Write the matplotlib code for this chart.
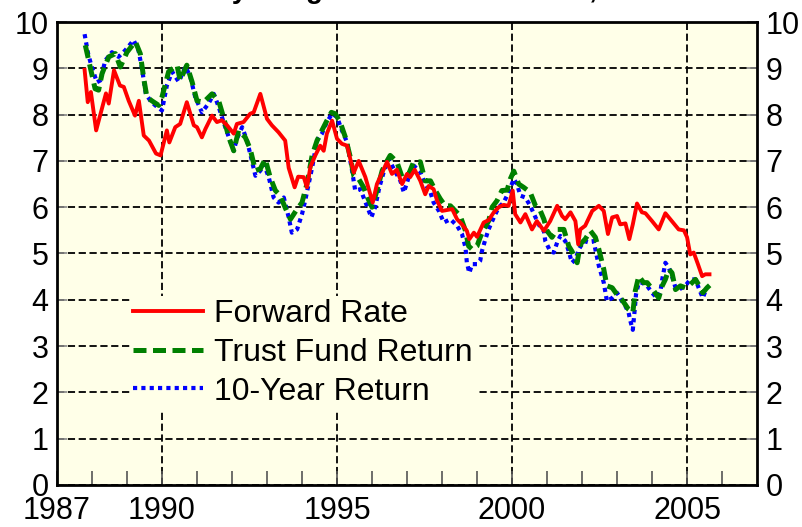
import numpy as np
import matplotlib.pyplot as plt

plt.rcParams['font.family'] = ['Liberation Sans', 'DejaVu Sans']

# Forward Rate (solid red)
fwd_year = [1987.79, 1987.88, 1987.97, 1988.12, 1988.40, 1988.48, 1988.63, 1988.80, 1988.91,
            1989.05, 1989.23, 1989.34, 1989.48, 1989.63, 1989.83, 1989.96, 1990.14, 1990.21,
            1990.38, 1990.52, 1990.71, 1990.91, 1991.00, 1991.14, 1991.24, 1991.43, 1991.57,
            1991.71, 1991.86, 1992.05, 1992.14, 1992.33, 1992.52, 1992.62, 1992.81, 1993.00,
            1993.14, 1993.33, 1993.52, 1993.62, 1993.79, 1993.89, 1994.05, 1994.14, 1994.24,
            1994.38, 1994.52, 1994.62, 1994.71, 1994.86, 1995.00, 1995.14, 1995.29, 1995.38,
            1995.48, 1995.62, 1995.81, 1996.02, 1996.14, 1996.29, 1996.43, 1996.57, 1996.71,
            1996.86, 1997.00, 1997.09, 1997.22, 1997.38, 1997.52, 1997.62, 1997.76, 1997.86,
            1998.00, 1998.14, 1998.29, 1998.43, 1998.57, 1998.71, 1998.78, 1998.91, 1999.00,
            1999.19, 1999.33, 1999.48, 1999.62, 1999.76, 1999.90, 2000.02, 2000.09, 2000.24,
            2000.38, 2000.57, 2000.71, 2000.91, 2001.09, 2001.29, 2001.43, 2001.52, 2001.67,
            2001.81, 2001.89, 2001.95, 2002.09, 2002.29, 2002.48, 2002.62, 2002.74, 2002.86,
            2003.00, 2003.09, 2003.24, 2003.35, 2003.45, 2003.57, 2003.71, 2003.81, 2004.00,
            2004.19, 2004.38, 2004.52, 2004.67, 2004.76, 2004.91, 2005.00, 2005.09, 2005.19,
            2005.31, 2005.43, 2005.52, 2005.64]
fwd_rate = [8.97, 8.27, 8.49, 7.66, 8.46, 8.24, 8.96, 8.63, 8.60,
            8.30, 7.98, 8.30, 7.55, 7.44, 7.16, 7.12, 7.66, 7.40,
            7.73, 7.80, 8.27, 7.77, 7.73, 7.51, 7.69, 7.98, 7.84,
            7.88, 7.77, 7.59, 7.80, 7.84, 8.02, 8.05, 8.45, 7.91,
            7.77, 7.62, 7.44, 6.85, 6.43, 6.66, 6.65, 6.43, 6.87,
            7.12, 7.33, 7.22, 7.59, 7.87, 7.48, 7.37, 7.33, 7.04,
            6.75, 7.00, 6.65, 6.10, 6.50, 6.75, 6.98, 6.72, 6.81,
            6.50, 6.72, 6.65, 6.81, 6.57, 6.28, 6.46, 6.39, 6.14,
            5.92, 5.94, 5.96, 5.74, 5.63, 5.49, 5.31, 5.45, 5.36,
            5.67, 5.72, 5.89, 6.00, 6.05, 6.03, 6.36, 5.85, 5.67,
            5.85, 5.52, 5.70, 5.49, 5.70, 6.03, 5.81, 5.74, 5.89,
            5.70, 5.20, 5.52, 5.60, 5.92, 6.03, 5.92, 5.42, 5.78,
            5.81, 5.63, 5.65, 5.31, 5.63, 6.08, 5.89, 5.87, 5.70,
            5.52, 5.87, 5.74, 5.60, 5.52, 5.50, 5.35, 4.98, 5.02,
            4.77, 4.51, 4.55, 4.55]

# Trust Fund Return (green dashed)
tf_year = [1987.81, 1987.95, 1988.09, 1988.19, 1988.29, 1988.48, 1988.67, 1988.81, 1989.00,
           1989.24, 1989.38, 1989.48, 1989.57, 1989.71, 1989.91, 1990.00, 1990.19, 1990.43,
           1990.52, 1990.71, 1990.86, 1991.00, 1991.19, 1991.43, 1991.62, 1991.76, 1991.91,
           1992.05, 1992.19, 1992.38, 1992.52, 1992.67, 1992.81, 1992.95, 1993.09, 1993.24,
           1993.38, 1993.52, 1993.67, 1993.86, 1994.00, 1994.14, 1994.29, 1994.43, 1994.57,
           1994.71, 1994.84, 1994.95, 1995.09, 1995.24, 1995.38, 1995.48, 1995.62, 1995.76,
           1995.89, 1996.00, 1996.14, 1996.29, 1996.43, 1996.52, 1996.71, 1996.86, 1997.05,
           1997.19, 1997.38, 1997.52, 1997.67, 1997.81, 1997.95, 1998.09, 1998.24, 1998.38,
           1998.52, 1998.67, 1998.76, 1998.86, 1999.00, 1999.09, 1999.19, 1999.33, 1999.43,
           1999.57, 1999.71, 1999.86, 1999.95, 2000.05, 2000.19, 2000.33, 2000.52, 2000.67,
           2000.81, 2000.91, 2001.00, 2001.14, 2001.29, 2001.48, 2001.62, 2001.71, 2001.86,
           2001.95, 2002.09, 2002.24, 2002.38, 2002.48, 2002.62, 2002.71, 2002.86, 2003.00,
           2003.14, 2003.33, 2003.45, 2003.52, 2003.62, 2003.76, 2003.86, 2004.05, 2004.19,
           2004.29, 2004.38, 2004.48, 2004.57, 2004.67, 2004.81, 2004.95, 2005.09, 2005.24,
           2005.35, 2005.45, 2005.57, 2005.67]
tf_return = [9.50, 9.03, 8.56, 8.53, 8.89, 9.25, 9.32, 9.03, 9.35,
             9.58, 9.32, 8.78, 8.38, 8.30, 8.20, 8.38, 8.93, 9.07,
             8.74, 9.07, 8.71, 8.30, 8.27, 8.45, 8.30, 7.94, 7.51,
             7.22, 7.66, 7.51, 7.26, 6.79, 6.83, 7.04, 6.65, 6.36,
             6.25, 5.99, 5.74, 5.96, 6.10, 6.50, 7.12, 7.44, 7.66,
             7.87, 8.05, 8.02, 7.84, 7.51, 7.08, 6.68, 6.61, 6.43,
             6.18, 6.00, 6.36, 6.79, 7.00, 7.12, 6.98, 6.65, 6.72,
             6.98, 6.98, 6.57, 6.57, 6.36, 6.18, 6.03, 6.03, 5.92,
             5.81, 5.49, 5.16, 5.09, 5.16, 5.35, 5.52, 5.70, 6.00,
             6.14, 6.36, 6.37, 6.61, 6.78, 6.50, 6.43, 6.32, 6.03,
             5.92, 5.74, 5.49, 5.35, 5.52, 5.52, 5.16, 5.05, 4.80,
             5.20, 5.31, 5.49, 5.35, 5.09, 4.66, 4.30, 4.26, 4.11,
             4.00, 3.79, 3.72, 4.19, 4.51, 4.37, 4.37, 4.19, 4.04,
             4.30, 4.44, 4.66, 4.58, 4.22, 4.30, 4.26, 4.33, 4.44,
             4.30, 4.15, 4.26, 4.33]

# 10-Year Return (blue dotted)
ty_year = [1987.79, 1987.89, 1987.98, 1988.14, 1988.24, 1988.38, 1988.57, 1988.76, 1988.95,
           1989.19, 1989.33, 1989.43, 1989.54, 1989.67, 1989.81, 1990.00, 1990.14, 1990.29,
           1990.48, 1990.67, 1990.81, 1990.95, 1991.14, 1991.33, 1991.48, 1991.62, 1991.76,
           1991.91, 1992.05, 1992.14, 1992.29, 1992.43, 1992.57, 1992.67, 1992.81, 1992.91,
           1993.05, 1993.19, 1993.33, 1993.48, 1993.62, 1993.71, 1993.86, 1994.00, 1994.09,
           1994.19, 1994.29, 1994.43, 1994.57, 1994.71, 1994.86, 1995.00, 1995.14, 1995.29,
           1995.43, 1995.52, 1995.67, 1995.76, 1995.89, 1995.98, 1996.09, 1996.21, 1996.33,
           1996.48, 1996.62, 1996.81, 1996.91, 1997.05, 1997.19, 1997.38, 1997.52, 1997.67,
           1997.76, 1997.91, 1998.05, 1998.24, 1998.43, 1998.57, 1998.67, 1998.71, 1998.78,
           1998.86, 1999.00, 1999.09, 1999.14, 1999.24, 1999.33, 1999.48, 1999.62, 1999.76,
           1999.90, 2000.05, 2000.14, 2000.24, 2000.38, 2000.52, 2000.67, 2000.81, 2000.91,
           2000.95, 2001.09, 2001.19, 2001.29, 2001.38, 2001.52, 2001.62, 2001.71, 2001.81,
           2001.91, 2002.05, 2002.19, 2002.33, 2002.48, 2002.62, 2002.71, 2002.86, 2003.00,
           2003.14, 2003.24, 2003.33, 2003.38, 2003.45, 2003.51, 2003.54, 2003.62, 2003.71,
           2003.86, 2004.00, 2004.14, 2004.24, 2004.29, 2004.38, 2004.48, 2004.57, 2004.67,
           2004.76, 2004.86, 2004.95, 2005.09, 2005.24, 2005.35, 2005.45, 2005.54]
ty_return = [9.74, 9.32, 9.07, 8.70, 8.74, 9.17, 9.35, 9.25, 9.39,
             9.61, 9.39, 8.99, 8.45, 8.30, 8.20, 8.09, 8.63, 8.93,
             8.71, 9.04, 8.82, 8.38, 8.05, 8.24, 8.45, 8.17, 7.84,
             7.51, 7.22, 7.48, 7.73, 7.44, 7.00, 6.68, 6.79, 6.93,
             6.65, 6.21, 6.10, 6.21, 5.78, 5.45, 5.52, 5.85, 6.14,
             6.50, 6.86, 7.44, 7.59, 7.84, 8.02, 7.95, 7.66, 7.40,
             6.79, 6.36, 6.39, 6.21, 5.96, 5.78, 6.00, 6.43, 6.75,
             7.04, 6.83, 6.57, 6.32, 6.65, 6.90, 6.76, 6.50, 6.32,
             6.10, 5.92, 5.67, 5.74, 5.60, 5.42, 5.13, 4.80, 4.58,
             4.77, 4.77, 4.84, 5.05, 5.31, 5.52, 5.78, 6.00, 6.10,
             6.32, 6.61, 6.50, 6.25, 6.21, 6.03, 5.78, 5.56, 5.49,
             5.27, 5.05, 5.02, 5.24, 5.38, 5.27, 5.05, 4.80, 4.87,
             5.09, 5.27, 5.24, 5.27, 4.73, 4.37, 3.97, 4.04, 4.15,
             3.97, 3.86, 3.72, 3.54, 3.35, 3.83, 4.11, 4.37, 4.37,
             4.30, 4.15, 4.04, 4.19, 4.44, 4.80, 4.69, 4.51, 4.26,
             4.22, 4.26, 4.30, 4.44, 4.44, 4.22, 4.04, 4.22]

year_labels = [1987, 1990, 1995, 2000, 2005]

bg = '#FFFFE8'
fig = plt.figure(figsize=(8.02, 5.27), dpi=100)
ax = fig.add_axes([0.071, 0.080, 0.873, 0.878])
ax.set_facecolor(bg)

ax.plot(ty_year, ty_return, color='#0000FF', lw=3.0, linestyle=(0, (1, 1)),
        label='10-Year Return', zorder=3)
ax.plot(tf_year, tf_return, color='#008000', lw=3.6, linestyle=(0, (2.6, 1.3)),
        label='Trust Fund Return', zorder=4)
ax.plot(fwd_year, fwd_rate, color='#FF0000', lw=2.8, label='Forward Rate', zorder=5)

ax.set_xlim(1987, 2007)
ax.set_ylim(0, 10)
ax.set_xticks(year_labels)
ax.set_xticks(np.arange(1988, 2007), minor=True)
ax.set_yticks(np.arange(0, 11))

ax.grid(True, which='major', color='black', linestyle=(0, (4, 2)), linewidth=1.3, zorder=1)
for sp in ax.spines.values():
    sp.set_linewidth(2)
    sp.set_zorder(6)

ax.tick_params(axis='x', which='both', direction='in', labelsize=22, pad=8,
               length=10, width=1.2, color='#555555', top=False)
ax.tick_params(axis='y', which='both', direction='in', labelsize=22, pad=6,
               length=7, width=1.2, color='#888888', left=True, right=True,
               labelleft=True, labelright=True)

handles, labels = ax.get_legend_handles_labels()
order = [2, 1, 0]
leg = ax.legend([handles[i] for i in order], [labels[i] for i in order],
                loc='upper left', bbox_to_anchor=(0.104, 0.409), frameon=True,
                fontsize=23, handlelength=2.2, handletextpad=0.35, labelspacing=0.28,
                borderaxespad=0, borderpad=0.1, fancybox=False)
leg.get_frame().set_facecolor(bg)
leg.get_frame().set_edgecolor('none')
leg.get_frame().set_alpha(1)
leg.set_zorder(7)

fig.text(0.176, 1.004, 'Monthly Long-Term Interest Rates, 1987-2005',
         fontsize=20, fontweight='bold', ha='left', va='baseline')

fig.savefig('out.png', dpi=100)
